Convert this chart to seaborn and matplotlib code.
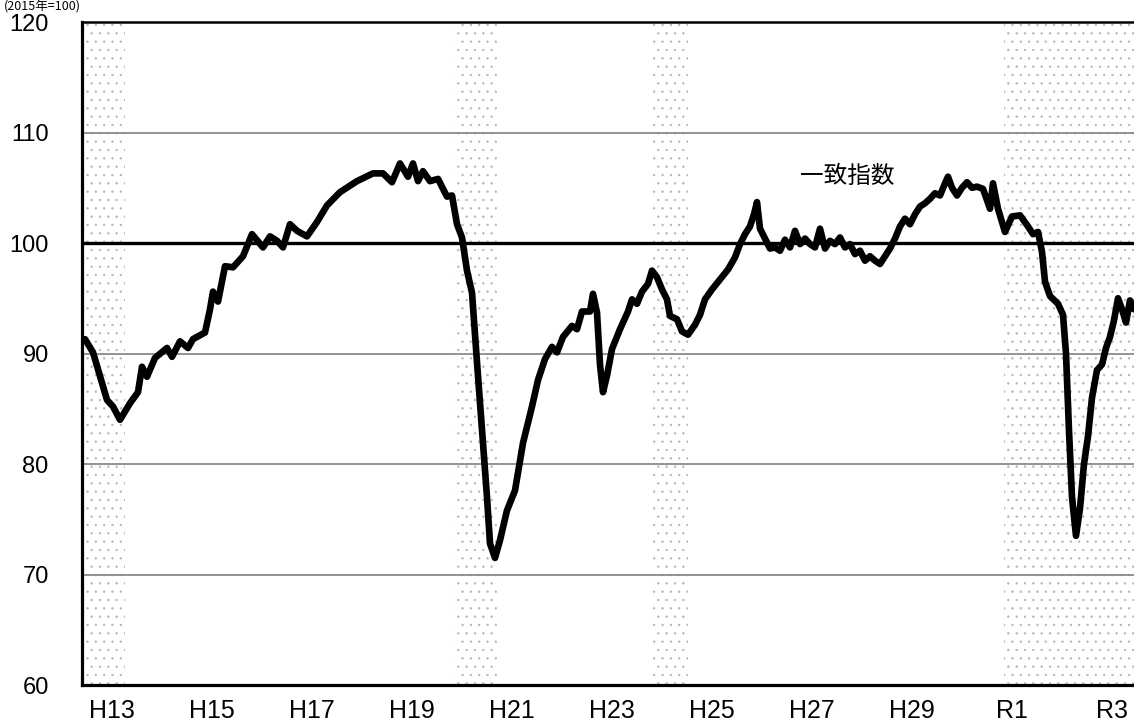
import matplotlib
matplotlib.use("Agg")
import matplotlib.pyplot as plt
import seaborn as sns
import pandas as pd

# ---- data ----
years = [
    2000.96, 2001.12, 2001.40, 2001.52, 2001.66, 2001.86, 2002.02, 2002.10, 2002.20, 2002.36,
    2002.60, 2002.70, 2002.86, 2003.02, 2003.12, 2003.36, 2003.46, 2003.52, 2003.62, 2003.76,
    2003.92, 2004.12, 2004.30, 2004.52, 2004.66, 2004.80, 2004.92, 2005.06, 2005.20, 2005.40,
    2005.60, 2005.80, 2006.06, 2006.40, 2006.72, 2006.92, 2007.10, 2007.26, 2007.42, 2007.52,
    2007.62, 2007.72, 2007.86, 2008.02, 2008.20, 2008.30, 2008.40, 2008.50, 2008.60, 2008.70,
    2008.80, 2008.90, 2009.00, 2009.06, 2009.16, 2009.26, 2009.40, 2009.56, 2009.72, 2009.90,
    2010.02, 2010.16, 2010.30, 2010.40, 2010.52, 2010.70, 2010.80, 2010.90, 2011.06, 2011.12,
    2011.20, 2011.26, 2011.32, 2011.40, 2011.50, 2011.66, 2011.82, 2011.90, 2012.00, 2012.10,
    2012.22, 2012.30, 2012.40, 2012.50, 2012.60, 2012.66, 2012.80, 2012.90, 2013.02, 2013.16,
    2013.26, 2013.36, 2013.50, 2013.66, 2013.82, 2013.96, 2014.06, 2014.16, 2014.26, 2014.34,
    2014.40, 2014.46, 2014.56, 2014.66, 2014.76, 2014.86, 2014.96, 2015.06, 2015.16, 2015.26,
    2015.36, 2015.46, 2015.56, 2015.66, 2015.76, 2015.86, 2015.96, 2016.06, 2016.16, 2016.26,
    2016.36, 2016.46, 2016.56, 2016.66, 2016.76, 2016.86, 2016.96, 2017.06, 2017.16, 2017.26,
    2017.36, 2017.46, 2017.56, 2017.66, 2017.76, 2017.86, 2017.96, 2018.06, 2018.16, 2018.22,
    2018.30, 2018.40, 2018.50, 2018.60, 2018.70, 2018.80, 2018.92, 2019.06, 2019.12, 2019.22,
    2019.36, 2019.50, 2019.66, 2019.82, 2019.92, 2020.02, 2020.10, 2020.16, 2020.26, 2020.42,
    2020.52, 2020.58, 2020.64, 2020.70, 2020.78, 2020.86, 2020.94, 2021.02, 2021.10, 2021.20,
    2021.30, 2021.38, 2021.46, 2021.54, 2021.62, 2021.70, 2021.78, 2021.86, 2021.94,
]
index_values = [
    91.3, 90.1, 85.8, 85.2, 84.0, 85.5, 86.5, 88.8, 87.9, 89.6,
    90.5, 89.7, 91.1, 90.5, 91.3, 91.9, 94.0, 95.6, 94.7, 97.9,
    97.8, 98.8, 100.8, 99.6, 100.6, 100.2, 99.6, 101.7, 101.1, 100.6,
    101.9, 103.4, 104.6, 105.6, 106.3, 106.3, 105.5, 107.2, 106.0, 107.2,
    105.6, 106.5, 105.6, 105.8, 104.2, 104.3, 101.7, 100.5, 97.5, 95.5,
    89.2, 83.1, 77.0, 72.8, 71.5, 73.1, 75.8, 77.6, 81.9, 85.2,
    87.6, 89.5, 90.6, 90.1, 91.5, 92.5, 92.2, 93.8, 93.8, 95.4,
    93.7, 89.0, 86.5, 88.0, 90.4, 92.2, 93.8, 94.9, 94.5, 95.6,
    96.3, 97.5, 96.9, 95.8, 94.9, 93.4, 93.1, 92.0, 91.7, 92.6,
    93.5, 94.9, 95.8, 96.7, 97.6, 98.7, 99.9, 100.8, 101.5, 102.6,
    103.7, 101.3, 100.4, 99.5, 99.6, 99.3, 100.3, 99.6, 101.1, 99.9,
    100.4, 99.9, 99.6, 101.3, 99.5, 100.2, 99.9, 100.5, 99.6, 99.9,
    99.0, 99.3, 98.4, 98.8, 98.4, 98.1, 98.8, 99.5, 100.4, 101.5,
    102.2, 101.7, 102.6, 103.3, 103.6, 104.0, 104.5, 104.3, 105.4, 106.0,
    105.0, 104.3, 105.0, 105.5, 105.0, 105.1, 104.9, 103.1, 105.4, 103.1,
    101.0, 102.4, 102.5, 101.5, 100.8, 101.0, 99.2, 96.5, 95.2, 94.5,
    93.5, 90.0, 83.0, 77.0, 73.5, 76.0, 80.0, 82.5, 86.0, 88.5,
    89.0, 90.5, 91.5, 93.0, 95.0, 94.0, 92.8, 94.8, 94.0,
]

# recession (shaded) periods, decimal years
shade_start = [2000.96, 2008.36, 2012.32, 2019.34]
shade_end = [2001.76, 2009.20, 2013.02, 2021.96]

tick_years = [2001.5, 2003.5, 2005.5, 2007.5, 2009.5, 2011.5, 2013.5, 2015.5, 2017.5, 2019.5, 2021.5]
tick_labels = ["H13", "H15", "H17", "H19", "H21", "H23", "H25", "H27", "H29", "R1", "R3"]
y_ticks = [60, 70, 80, 90, 100, 110, 120]
series_label = "一致指数"
unit_label = "(2015年=100)"

df = pd.DataFrame({"year": years, "value": index_values})

# ---- style ----
sns.set_theme(style="white")
plt.rcParams["font.family"] = ["Liberation Sans", "Noto Sans CJK JP", "DejaVu Sans"]
plt.rcParams["hatch.linewidth"] = 0.45

fig = plt.figure(figsize=(11.34, 7.26), dpi=100)
ax = fig.add_axes([82 / 1134, 1 - 685 / 726, 1 - 82 / 1134, (685 - 22) / 726])

for s, e in zip(shade_start, shade_end):
    ax.axvspan(s, e, facecolor="none", edgecolor="#b4b4b4", hatch="..", linewidth=0, zorder=0)

for yv in [70, 80, 90, 110]:
    ax.axhline(yv, color="#8a8a8a", linewidth=1.3, zorder=1)
ax.axhline(100, color="black", linewidth=2.4, zorder=1)

line_ax = sns.lineplot(data=df, x="year", y="value", ax=ax, color="black", linewidth=4.8,
                       sort=False, estimator=None, zorder=3)
for ln in line_ax.get_lines():
    ln.set_solid_joinstyle("round")
    ln.set_solid_capstyle("round")

ax.set_xlim(2000.9, 2021.94)
ax.set_ylim(60, 120)
ax.set_xticks(tick_years)
ax.set_xticklabels(tick_labels)
ax.set_yticks(y_ticks)
ax.set_xlabel("")
ax.set_ylabel("")
ax.tick_params(axis="y", length=0, pad=24, labelsize=17, colors="black")
ax.tick_params(axis="x", length=0, pad=10, labelsize=18, colors="black")

for side in ["left", "bottom"]:
    ax.spines[side].set_color("black")
    ax.spines[side].set_linewidth(2.3)
ax.spines["top"].set_color("black")
ax.spines["top"].set_linewidth(1.8)
ax.spines["right"].set_visible(False)

ax.text(2016.2, 106.0, series_label, ha="center", va="center", fontsize=17,
        family=["Noto Sans CJK JP", "DejaVu Sans"], color="black", zorder=4)

fig.text(4 / 1134, 1 - 1 / 726, unit_label, ha="left", va="top", fontsize=9,
         family=["Noto Sans CJK JP", "DejaVu Sans"], color="black")

fig.savefig("out.png", dpi=100)
